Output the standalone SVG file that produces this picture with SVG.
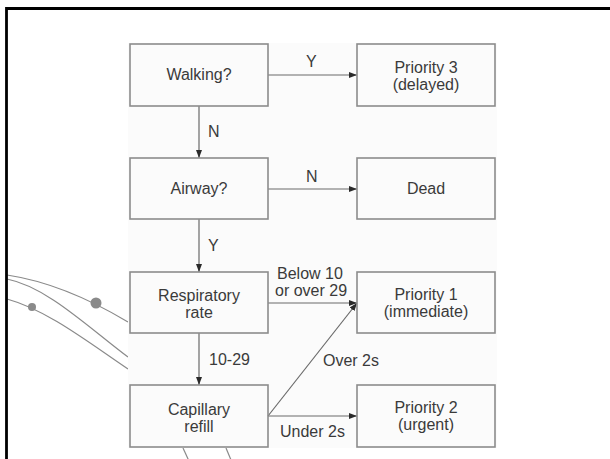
<svg xmlns="http://www.w3.org/2000/svg" width="610" height="459" viewBox="0 0 610 459">
<defs>
<marker id="arr" markerWidth="8" markerHeight="6" refX="8" refY="3" orient="auto" markerUnits="userSpaceOnUse">
<path d="M0,0 L8,3 L0,6 Z" fill="#2a2a2a"/>
</marker>
<style>
.box{fill:none;stroke:#8c8c8c;stroke-width:1.6}
.t{font-family:"Liberation Sans",Arial,sans-serif;font-size:16px;fill:#3a3a3a;text-anchor:middle}
.l{font-family:"Liberation Sans",Arial,sans-serif;font-size:16px;fill:#3a3a3a}
.c{fill:none;stroke:#6a6a6a;stroke-width:1.2}
.deco{fill:none;stroke:#8a8a8a;stroke-width:1.2}
</style>
</defs>
<rect width="610" height="459" fill="#ffffff"/>
<g id="decoration">
<path class="deco" d="M7,275 C47,281 88,298 128,322"/>
<path class="deco" d="M7,279 C47,287 88,327 128,357"/>
<path class="deco" d="M7,299 C47,310 88,342 128,369"/>
<circle cx="96" cy="303" r="5.5" fill="#8a8a8a"/>
<circle cx="32" cy="307" r="4" fill="#8a8a8a"/>
<path class="deco" d="M183,448 L188.5,460"/>
<path class="deco" d="M226,448 L231,460"/>
</g>
<rect x="128" y="43" width="369" height="405" fill="#fbfbfb"/>
<path d="M6.5,459 L6.5,8.5 L610,8.5" fill="none" stroke="#000" stroke-width="2.8"/>
<g id="connectors">
<line class="c" x1="268" y1="75" x2="357" y2="75" marker-end="url(#arr)"/>
<line class="c" x1="199" y1="106" x2="199" y2="158" marker-end="url(#arr)"/>
<line class="c" x1="268" y1="189" x2="357" y2="189" marker-end="url(#arr)"/>
<line class="c" x1="199" y1="219" x2="199" y2="272" marker-end="url(#arr)"/>
<line class="c" x1="268" y1="303" x2="357" y2="303" marker-end="url(#arr)"/>
<line class="c" x1="199" y1="333" x2="199" y2="385" marker-end="url(#arr)"/>
<line class="c" x1="268" y1="416" x2="357" y2="303" marker-end="url(#arr)"/>
<line class="c" x1="268" y1="416" x2="357" y2="416" marker-end="url(#arr)"/>
<text class="l" x="306" y="67">Y</text>
<text class="l" x="208" y="137">N</text>
<text class="l" x="306" y="182">N</text>
<text class="l" x="208" y="251">Y</text>
<text class="l" x="277" y="279">Below 10</text>
<text class="l" x="275" y="296">or over 29</text>
<text class="l" x="209" y="365">10-29</text>
<text class="l" x="323" y="366">Over 2s</text>
<text class="l" x="280" y="437">Under 2s</text>
</g>
<g id="walking">
<rect class="box" x="130" y="44" width="138" height="62"/>
<text class="t" x="199" y="80">Walking?</text>
</g>
<g id="priority3">
<rect class="box" x="357" y="44" width="138" height="62"/>
<text class="t" x="426" y="73">Priority 3</text>
<text class="t" x="426" y="90">(delayed)</text>
</g>
<g id="airway">
<rect class="box" x="130" y="158" width="138" height="61"/>
<text class="t" x="199" y="194">Airway?</text>
</g>
<g id="dead">
<rect class="box" x="357" y="158" width="138" height="61"/>
<text class="t" x="426" y="194">Dead</text>
</g>
<g id="respiratory">
<rect class="box" x="130" y="272" width="138" height="61"/>
<text class="t" x="199" y="301">Respiratory</text>
<text class="t" x="199" y="318">rate</text>
</g>
<g id="priority1">
<rect class="box" x="357" y="272" width="138" height="61"/>
<text class="t" x="426" y="300">Priority 1</text>
<text class="t" x="426" y="317">(immediate)</text>
</g>
<g id="capillary">
<rect class="box" x="130" y="385" width="138" height="62"/>
<text class="t" x="199" y="415">Capillary</text>
<text class="t" x="199" y="432">refill</text>
</g>
<g id="priority2">
<rect class="box" x="357" y="385" width="138" height="62"/>
<text class="t" x="426" y="413">Priority 2</text>
<text class="t" x="426" y="430">(urgent)</text>
</g>
</svg>
